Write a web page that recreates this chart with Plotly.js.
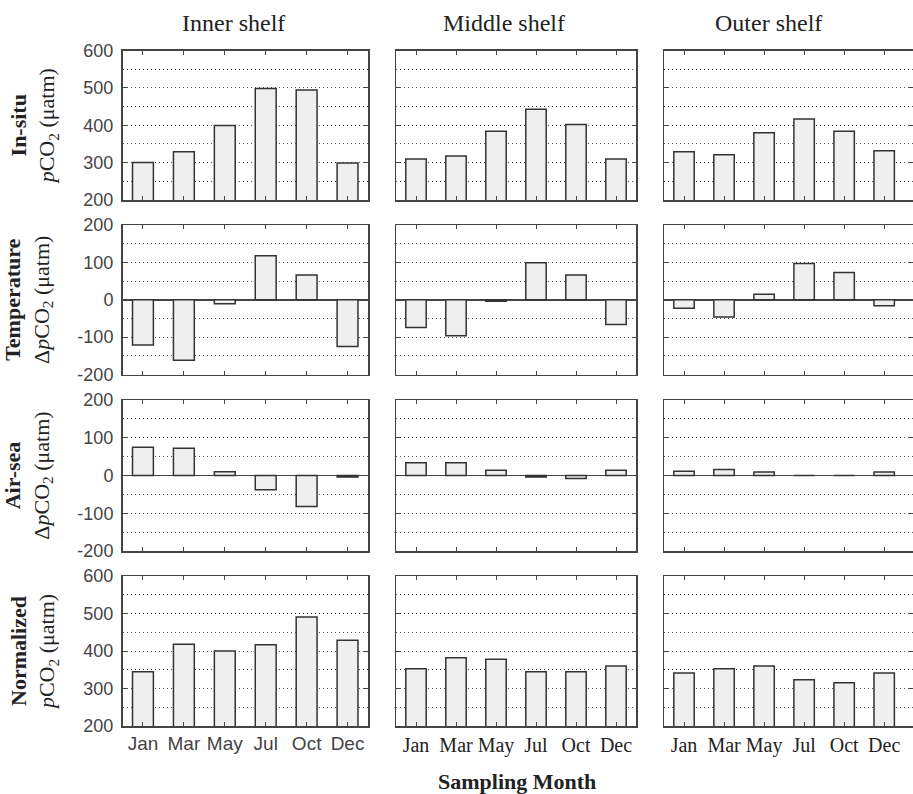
<!DOCTYPE html>
<html>
<head>
<meta charset="utf-8">
<script src="https://cdn.plot.ly/plotly-3.0.1.min.js"></script>
<style>html,body{margin:0;padding:0;background:#fff;}#chart{width:913px;height:794px;}</style>
</head>
<body>
<div id="chart"></div>
<script>
// ---- data ----
const months = ['Jan', 'Mar', 'May', 'Jul', 'Oct', 'Dec'];
const shelves = ['Inner shelf', 'Middle shelf', 'Outer shelf'];

const insituInner  = [300, 329, 399, 498, 494, 299];
const insituMiddle = [310, 318, 384, 443, 402, 310];
const insituOuter  = [329, 321, 380, 417, 384, 332];

const tempInner  = [-121, -162, -11, 118, 66, -125];
const tempMiddle = [-74, -96, -4, 99, 66, -66];
const tempOuter  = [-23, -46, 15, 97, 73, -16];

const airseaInner  = [75, 72, 10, -38, -82, -4];
const airseaMiddle = [34, 34, 14, -4, -8, 14];
const airseaOuter  = [11, 16, 9, 0, 0, 9];

const normInner  = [345, 418, 400, 417, 491, 429];
const normMiddle = [353, 382, 378, 345, 345, 360];
const normOuter  = [341, 353, 360, 323, 315, 341];

const pco2TickVals = [200, 300, 400, 500, 600];
const pco2TickText = ['200', '300', '400', '500', '600'];
const deltaTickVals = [-200, -100, 0, 100, 200];
const deltaTickText = ['-200', '-100', '0', '100', '200'];

const rowLabels = [
  ['In-situ', '<i>p</i>CO<sub>2</sub> (\u03bcatm)'],
  ['Temperature', '\u0394<i>p</i>CO<sub>2</sub> (\u03bcatm)'],
  ['Air-sea', '\u0394<i>p</i>CO<sub>2</sub> (\u03bcatm)'],
  ['Normalized', '<i>p</i>CO<sub>2</sub> (\u03bcatm)']
];
const xTitle = 'Sampling Month';

const rows = [
  [insituInner, insituMiddle, insituOuter],
  [tempInner, tempMiddle, tempOuter],
  [airseaInner, airseaMiddle, airseaOuter],
  [normInner, normMiddle, normOuter]
];

// ---- layout geometry (pixels) ----
const W = 913, H = 794;
const colPx = [[122.5, 368], [396, 636], [664, 913]];
const rowPx = [[50.5, 200], [225, 374.5], [400, 551], [576, 726]];
const titleX = [233, 504, 768];

const gridDash = '1px,3px';
const axisColor = '#444';

const data = [];
const layout = {
  width: W, height: H,
  margin: {l: 0, r: 0, t: 0, b: 0},
  paper_bgcolor: '#fff', plot_bgcolor: '#fff',
  showlegend: false,
  bargap: 0.49,
  annotations: [],
  font: {family: 'Liberation Serif', color: '#222'}
};

for (let r = 0; r < 4; r++) {
  for (let c = 0; c < 3; c++) {
    const i = r * 3 + c + 1;
    const xa = 'x' + (i === 1 ? '' : i), ya = 'y' + (i === 1 ? '' : i);
    const xk = 'xaxis' + (i === 1 ? '' : i), yk = 'yaxis' + (i === 1 ? '' : i);
    data.push({
      type: 'bar', x: months, y: rows[r][c], xaxis: xa, yaxis: ya,
      marker: {color: '#efefef', line: {color: '#333', width: 1.5}},
      hoverinfo: 'x+y'
    });
    const isDelta = (r === 1 || r === 2);
    const rightEnd = c === 2 ? 5.72 : 5.5;
    layout[xk] = {
      domain: [colPx[c][0] / W, colPx[c][1] / W],
      anchor: ya, type: 'category', range: [-0.5, rightEnd],
      showline: true, linecolor: axisColor, linewidth: 1.5, mirror: 'ticks',
      ticks: 'inside', ticklen: 4, tickcolor: axisColor, tickwidth: 1,
      showgrid: false, zeroline: false,
      showticklabels: r === 3,
      tickfont: c === 0
        ? {family: 'Liberation Sans', size: 19, color: '#444'}
        : {family: 'Liberation Serif', size: 20, color: '#222'},
      fixedrange: true
    };
    layout[yk] = {
      domain: [(H - rowPx[r][1]) / H, (H - rowPx[r][0]) / H],
      anchor: xa,
      range: isDelta ? [-200, 200] : [200, 600],
      tickvals: isDelta ? deltaTickVals : pco2TickVals,
      ticktext: isDelta ? deltaTickText : pco2TickText,
      showline: true, linecolor: axisColor, linewidth: 1.5, mirror: 'ticks',
      ticks: 'inside', ticklen: 4, tickcolor: axisColor, tickwidth: 1,
      showgrid: true, gridcolor: '#555', gridwidth: 1, griddash: gridDash,
      minor: {dtick: 50, tick0: 0, showgrid: true, gridcolor: '#555', gridwidth: 1, griddash: gridDash, ticks: ''},
      zeroline: isDelta, zerolinecolor: axisColor, zerolinewidth: 1.5,
      showticklabels: c === 0,
      ticklabelstandoff: 4,
      tickfont: {family: 'Liberation Sans', size: 18, color: '#444'},
      fixedrange: true
    };
    if (c === 0) {
      layout[yk].title = {
        text: '<b>' + rowLabels[r][0] + '</b><br>' + rowLabels[r][1],
        font: {family: 'Liberation Serif', size: 22, color: '#222'},
        standoff: 22
      };
    }
  }
}

// column titles
for (let c = 0; c < 3; c++) {
  layout.annotations.push({
    text: shelves[c], xref: 'paper', yref: 'paper',
    x: titleX[c] / W, y: (H - 23) / H, xanchor: 'center', yanchor: 'middle',
    showarrow: false, font: {family: 'Liberation Serif', size: 24, color: '#222'}
  });
}
// x title
layout.annotations.push({
  text: '<b>' + xTitle + '</b>', xref: 'paper', yref: 'paper',
  x: 517 / W, y: (H - 781) / H, xanchor: 'center', yanchor: 'middle',
  showarrow: false, font: {family: 'Liberation Serif', size: 22, color: '#222'}
});

Plotly.newPlot('chart', data, layout, {displayModeBar: false, staticPlot: true});
</script>
</body>
</html>
